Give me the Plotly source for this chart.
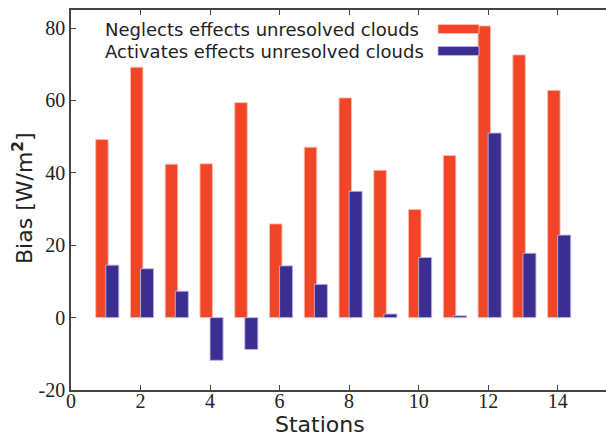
import plotly.graph_objects as go

# Station numbers and shortwave bias values for the two model runs
stations = list(range(1, 15))
bias_neglects = [49.2, 69.2, 42.4, 42.5, 59.4, 25.9, 47.1, 60.7, 40.7, 29.9, 44.8, 80.6, 72.6, 62.8]
bias_activates = [14.5, 13.5, 7.3, -11.8, -8.8, 14.3, 9.2, 34.9, 1.0, 16.6, 0.5, 51.0, 17.8, 22.8]

series_names = ["Neglects effects unresolved clouds", "Activates effects unresolved clouds"]
series_colors = ["#F04526", "#3A2F90"]
edge_colors = ["rgba(255,190,180,0.9)", "rgba(190,180,235,0.9)"]

x_ticks = [0, 2, 4, 6, 8, 10, 12, 14]
y_ticks = [-20, 0, 20, 40, 60, 80]
y_ticklabels = ["-20", "0", "20", "40", "60", "80"]

fig = go.Figure()
fig.add_trace(go.Bar(
    x=stations, y=bias_neglects, name=series_names[0],
    offset=-0.29, width=0.36,
    marker=dict(color=series_colors[0], line=dict(color=edge_colors[0], width=1)),
))
fig.add_trace(go.Bar(
    x=stations, y=bias_activates, name=series_names[1],
    offset=0.0, width=0.375,
    marker=dict(color=series_colors[1], line=dict(color=edge_colors[1], width=1)),
))

axis_color = "#444444"
tick_font = dict(family="Liberation Serif, Times New Roman, serif", size=20, color="#222222")

# Plot area: left 71 px, top 10 px, bottom edge at 390 px
L, T, B = 71, 10, 42
W, H = 606, 432
pw, ph = W - L, H - T - B

fig.update_layout(
    width=W, height=H,
    margin=dict(l=L, r=0, t=T, b=B, autoexpand=False),
    paper_bgcolor="white", plot_bgcolor="white",
    barmode="overlay",
    showlegend=False,
    font=dict(family="DejaVu Sans", color="#222222"),
)
fig.update_xaxes(
    range=[0, 15.39],
    tickvals=x_ticks,
    ticks="inside", ticklen=5, tickwidth=1, tickcolor=axis_color,
    showline=True, linecolor=axis_color, linewidth=1.5, mirror="ticks",
    showgrid=False, zeroline=False, automargin=False,
    ticklabelstandoff=-8,
    tickfont=tick_font,
)
fig.update_yaxes(
    range=[-20, 85],
    tickvals=y_ticks, ticktext=y_ticklabels,
    ticks="inside", ticklen=5, tickwidth=1, tickcolor=axis_color,
    showline=True, linecolor=axis_color, linewidth=1.5,
    showgrid=False, zeroline=False, automargin=False,
    tickfont=tick_font,
)

# Axis titles
fig.add_annotation(
    x=(320 - L) / pw, y=-(424 - (T + ph)) / ph, xref="paper", yref="paper",
    text="Stations", showarrow=False, xanchor="center", yanchor="middle",
    font=dict(family="DejaVu Sans", size=22, color="#222222"),
)
fig.add_annotation(
    x=-(L - 23) / pw, y=1 - (198 - T) / ph, xref="paper", yref="paper",
    text="Bias [W/m<sup><b>2</b></sup>]", showarrow=False, textangle=-90,
    xanchor="center", yanchor="middle",
    font=dict(family="DejaVu Sans", size=22, color="#222222"),
)

# Legend drawn with text first and the colour patch after it
legend_rows = [(29, 0), (51, 1)]
for y_px, i in legend_rows:
    y_paper = 1 - (y_px - T) / ph
    fig.add_annotation(
        x=(104 - L) / pw, y=y_paper, xref="paper", yref="paper",
        text=series_names[i], showarrow=False, xanchor="left", yanchor="middle",
        borderpad=0,
        font=dict(family="DejaVu Sans", size=18, color="#222222"),
    )
    fig.add_shape(
        type="rect", xref="paper", yref="paper",
        x0=(438 - L) / pw, x1=(479 - L) / pw,
        y0=y_paper - 4.5 / ph, y1=y_paper + 4.5 / ph,
        fillcolor=series_colors[i], line=dict(color=edge_colors[i], width=1),
    )

fig.write_html("out.html")
